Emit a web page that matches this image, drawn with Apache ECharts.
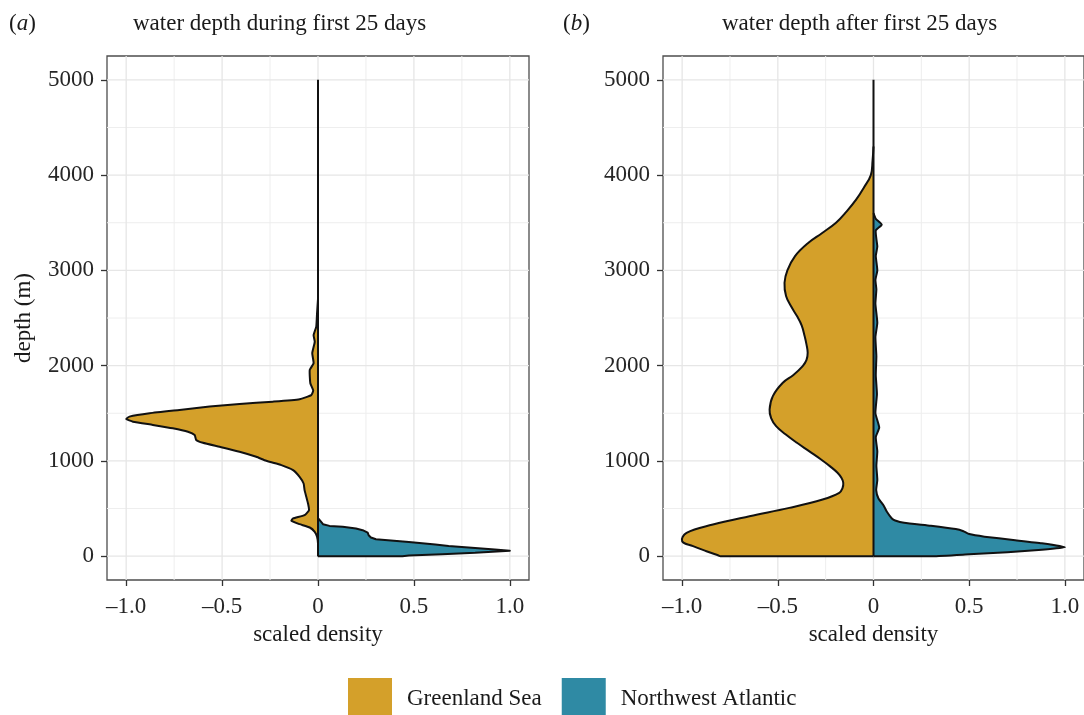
<!DOCTYPE html>
<html>
<head>
<meta charset="utf-8">
<script src="https://cdn.jsdelivr.net/npm/echarts@6/dist/echarts.min.js"></script>
<style>html,body{margin:0;padding:0;background:#fff}#c{width:1084px;height:715px}</style>
</head>
<body>
<div id="c"></div>
<script>
// ---------- data ----------
const xTickValues = [-1, -0.5, 0, 0.5, 1];
const xMinorValues = [-0.75, -0.25, 0.25, 0.75];
const yTickValues = [0, 1000, 2000, 3000, 4000, 5000];
const yMinorValues = [500, 1500, 2500, 3500, 4500];
const spineDepth = [0, 5000];

// panel (a): during first 25 days
const gsA_depth = [2700, 2550, 2410, 2320, 2250, 2130, 2025, 1955, 1815, 1740, 1690, 1648, 1622, 1597, 1570, 1535, 1500, 1465, 1440, 1412, 1378, 1342, 1306, 1272, 1220, 1190, 1148, 1096, 1043, 1001, 956, 903, 833, 763, 693, 623, 553, 483, 431, 396, 371, 336, 301, 256, 203, 133, 0];
const gsA_dens  = [0, -0.005, -0.009, -0.023, -0.017, -0.03, -0.023, -0.043, -0.04, -0.025, -0.035, -0.096, -0.235, -0.409, -0.565, -0.722, -0.878, -0.983, -1.0, -0.965, -0.861, -0.757, -0.678, -0.643, -0.635, -0.6, -0.513, -0.409, -0.322, -0.27, -0.191, -0.13, -0.096, -0.075, -0.07, -0.061, -0.052, -0.047, -0.07, -0.13, -0.139, -0.096, -0.043, -0.017, -0.005, 0, 0];
const naA_depth = [400, 378, 336, 318, 308, 290, 273, 248, 220, 196, 178, 150, 122, 108, 87, 70, 58, 35, 21, 7, 0, 0];
const naA_dens  = [0, 0.009, 0.026, 0.06, 0.129, 0.198, 0.233, 0.259, 0.264, 0.276, 0.302, 0.474, 0.612, 0.681, 0.819, 0.922, 1.0, 0.819, 0.647, 0.474, 0.44, 0];

// panel (b): after first 25 days
const gsB_depth = [4300, 4150, 4000, 3870, 3745, 3620, 3500, 3390, 3290, 3150, 3000, 2870, 2730, 2620, 2520, 2420, 2310, 2220, 2135, 2060, 1995, 1900, 1820, 1680, 1540, 1450, 1365, 1280, 1190, 1100, 1015, 940, 875, 820, 770, 715, 665, 595, 507, 420, 332, 245, 157, 105, 52, 7, 0, 0];
const gsB_dens  = [0, -0.005, -0.014, -0.05, -0.09, -0.14, -0.196, -0.27, -0.34, -0.41, -0.45, -0.465, -0.457, -0.43, -0.40, -0.375, -0.36, -0.35, -0.344, -0.35, -0.37, -0.42, -0.474, -0.526, -0.543, -0.535, -0.509, -0.46, -0.40, -0.335, -0.274, -0.225, -0.188, -0.167, -0.158, -0.162, -0.179, -0.266, -0.44, -0.648, -0.839, -0.977, -1.0, -0.943, -0.873, -0.81, -0.8, 0];
const naB_depth = [3600, 3540, 3480, 3420, 3330, 3250, 3150, 3000, 2900, 2800, 2650, 2450, 2300, 2100, 1900, 1700, 1500, 1350, 1250, 1100, 950, 800, 693, 605, 535, 466, 396, 375, 350, 320, 285, 262, 232, 205, 170, 135, 95, 68, 42, 20, 0, 0];
const naB_dens  = [0, 0.012, 0.043, 0.012, 0.015, 0.02, 0.012, 0.02, 0.01, 0.015, 0.01, 0.02, 0.01, 0.015, 0.012, 0.018, 0.01, 0.03, 0.012, 0.02, 0.015, 0.02, 0.014, 0.026, 0.052, 0.07, 0.096, 0.113, 0.16, 0.3, 0.43, 0.47, 0.5, 0.58, 0.73, 0.88, 1.0, 0.88, 0.7, 0.5, 0.31, 0];

const panelTitles = ['water depth during first 25 days', 'water depth after first 25 days'];
const panelTags = ['a', 'b'];
const groupNames = ['Greenland Sea', 'Northwest Atlantic'];

// ---------- style ----------
const FONT = 'Liberation Serif';
const GOLD = '#D4A02A';
const TEAL = '#2F8AA4';
const TXT = '#1a1a1a';
const TICK = '#262626';

const zip = (xs, ys) => xs.map((v, i) => [v, ys[i]]);

// open outline (from the top point on x=0 down to the bottom point on x=0);
// the fill closes straight along x=0, the spine line draws that edge
function shapeRenderer(pts, color, smooth) {
  return function (params, api) {
    if (params.dataIndex !== 0) return null;
    const p = pts.map(d => api.coord(d));
    const shape = { points: p };
    if (smooth) shape.smooth = smooth;
    return { type: 'polyline', shape: shape,
      style: { fill: color, stroke: '#111', lineWidth: 2, lineJoin: 'round' } };
  };
}

function gridLineSeries(idx, values, dir, color, width) {
  return {
    type: 'custom', xAxisIndex: idx, yAxisIndex: idx, z: 0, silent: true,
    data: values.map(v => dir === 'x' ? [v, 0] : [0, v]),
    renderItem: function (params, api) {
      const cs = params.coordSys;
      const c = api.coord([api.value(0), api.value(1)]);
      const shape = dir === 'x'
        ? { x1: c[0], y1: cs.y, x2: c[0], y2: cs.y + cs.height }
        : { x1: cs.x, y1: c[1], x2: cs.x + cs.width, y2: c[1] };
      return { type: 'line', shape: shape, style: { stroke: color, lineWidth: width } };
    }
  };
}

const xFmt = v => v === 0 ? '0' : (v < 0 ? '\u2013' : '') + Math.abs(v).toFixed(1);

function xAxisFor(idx) {
  return {
    gridIndex: idx, type: 'value', min: -1.1, max: 1.1, position: 'bottom',
    splitLine: { show: false }, axisLine: { show: false, onZero: false },
    axisTick: { show: true, length: 6, customValues: xTickValues, lineStyle: { color: '#333', width: 1.3 } },
    axisLabel: { customValues: xTickValues, formatter: xFmt, margin: 15, fontFamily: FONT, fontSize: 23, color: TICK },
    name: 'scaled density', nameLocation: 'middle', nameGap: 43,
    nameTextStyle: { fontFamily: FONT, fontSize: 23, color: TXT }
  };
}
function yAxisFor(idx) {
  const a = {
    gridIndex: idx, type: 'value', min: -250, max: 5250, position: 'left',
    splitLine: { show: false }, axisLine: { show: false, onZero: false },
    axisTick: { show: true, length: 6, customValues: yTickValues, lineStyle: { color: '#333', width: 1.3 } },
    axisLabel: { customValues: yTickValues, formatter: v => String(v), margin: 13, fontFamily: FONT, fontSize: 23, color: TICK }
  };
  if (idx === 0) {
    a.name = 'depth (m)'; a.nameLocation = 'middle'; a.nameGap = 72;
    a.nameTextStyle = { fontFamily: FONT, fontSize: 23, color: TXT };
  }
  return a;
}

const shapes = [
  [zip(gsA_dens, gsA_depth), zip(naA_dens, naA_depth), 0.15, 0],
  [zip(gsB_dens, gsB_depth), zip(naB_dens, naB_depth), 0.4, 0.15]
];

const series = [];
[0, 1].forEach(i => {
  series.push(gridLineSeries(i, xMinorValues, 'x', '#eeeeee', 1));
  series.push(gridLineSeries(i, yMinorValues, 'y', '#eeeeee', 1));
  series.push(gridLineSeries(i, xTickValues, 'x', '#e6e6e6', 1.3));
  series.push(gridLineSeries(i, yTickValues, 'y', '#e6e6e6', 1.3));
  const [gs, na, smG, smN] = shapes[i];
  series.push({ type: 'custom', name: groupNames[0], xAxisIndex: i, yAxisIndex: i, z: 2,
    itemStyle: { color: GOLD }, data: gs, encode: { x: 0, y: 1 }, renderItem: shapeRenderer(gs, GOLD, smG) });
  series.push({ type: 'custom', name: groupNames[1], xAxisIndex: i, yAxisIndex: i, z: 2,
    itemStyle: { color: TEAL }, data: na, encode: { x: 0, y: 1 }, renderItem: shapeRenderer(na, TEAL, smN) });
  series.push({ type: 'line', xAxisIndex: i, yAxisIndex: i, z: 3, silent: true, symbol: 'none',
    data: spineDepth.map(d => [0, d]), lineStyle: { color: '#111', width: 2 } });
});

const titleStyle = { fontFamily: FONT, fontSize: 23, fontWeight: 'normal', color: TXT,
  rich: { i: { fontFamily: FONT, fontSize: 23, fontStyle: 'italic', color: TXT } } };

const option = {
  backgroundColor: '#fff',
  animation: false,
  title: [
    { text: '({i|' + panelTags[0] + '})', left: 9, top: 12, padding: 0, textStyle: titleStyle },
    { text: panelTitles[0], left: 133, top: 12, padding: 0, textStyle: titleStyle },
    { text: '({i|' + panelTags[1] + '})', left: 563, top: 12, padding: 0, textStyle: titleStyle },
    { text: panelTitles[1], left: 722, top: 12, padding: 0, textStyle: titleStyle }
  ],
  grid: [
    { left: 107, top: 56, width: 422, height: 524, show: true, borderColor: '#4d4d4d', borderWidth: 1.3, backgroundColor: 'transparent' },
    { left: 663, top: 56, width: 424, height: 524, show: true, borderColor: '#4d4d4d', borderWidth: 1.3, backgroundColor: 'transparent' }
  ],
  xAxis: [xAxisFor(0), xAxisFor(1)],
  yAxis: [yAxisFor(0), yAxisFor(1)],
  legend: {
    left: 348, top: 678, padding: 0, itemWidth: 44, itemHeight: 42, itemGap: 20, icon: 'rect', selectedMode: false,
    data: [
      { name: groupNames[0], itemStyle: { color: GOLD, borderWidth: 0 } },
      { name: groupNames[1], itemStyle: { color: TEAL, borderWidth: 0 } }
    ],
    textStyle: { fontFamily: FONT, fontSize: 23, color: TXT, padding: [0, 0, 0, 10] }
  },
  series: series
};

const chart = echarts.init(document.getElementById('c'), null, { renderer: 'canvas' });
chart.setOption(option);
</script>
</body>
</html>
